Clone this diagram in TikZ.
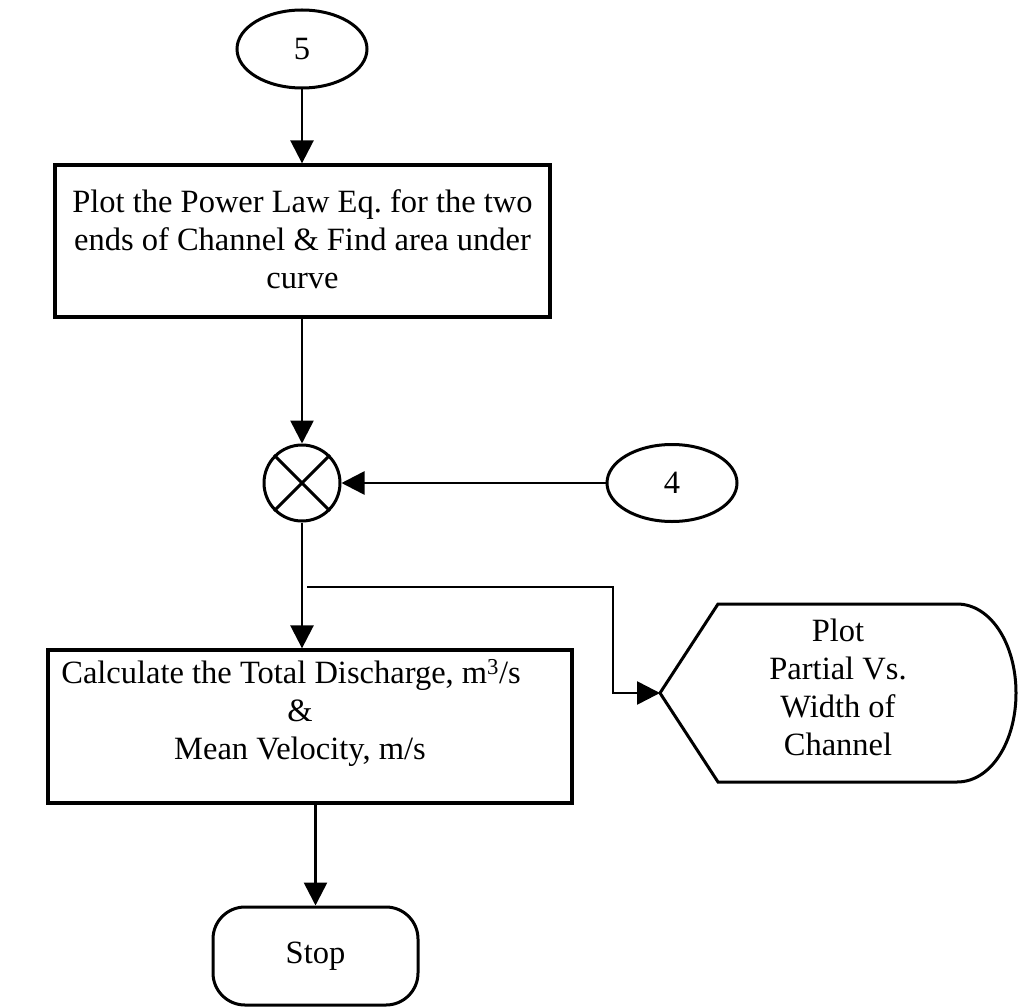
\documentclass[tikz,border=0pt]{standalone}
\usepackage{fontspec}
\setmainfont{Liberation Serif}
\usetikzlibrary{arrows.meta,shapes.geometric,calc}
\frenchspacing
\begin{document}
\begin{tikzpicture}[x=1pt,y=-1pt,
  every node/.style={font=\fontsize{32.5}{38}\selectfont},
  procbox/.style={draw, rectangle, line width=3.3pt, inner sep=0pt},
  connector/.style={draw, ellipse, line width=3pt, inner sep=0pt,
                    minimum width=130pt, minimum height=78pt},
  terminal/.style={draw, rectangle, rounded corners=32pt, line width=3pt,
                   inner sep=0pt, minimum width=205pt, minimum height=98pt},
  boxtext/.style={align=center, inner sep=0pt},
  flow/.style={line width=2.6pt, -{Triangle[length=23pt,width=23pt]}}]
\useasboundingbox (0,0) rectangle (1019,1008);

% off-page connector from sheet 5
\node[connector] (c5) at (302,49) {5};

% power-law plotting step
\node[procbox, minimum width=495pt, minimum height=152pt] (plot) at (302.5,241) {};
\node[boxtext] (plottext) at (302.5,239)
  {Plot the Power Law Eq. for the two\\ends of Channel \& Find area under\\curve};

% multiplication junction
\node[draw, circle, line width=3pt, inner sep=0pt, minimum size=76pt] (mult) at (302,483) {};
\draw[line width=3pt] (mult.north east) -- (mult.south west)
                      (mult.north west) -- (mult.south east);

% off-page connector from sheet 4
\node[connector, minimum height=77pt] (c4) at (672,483) {4};

% discharge calculation
\node[procbox, minimum width=524pt, minimum height=153pt] (calc) at (310,726.5) {};
\node[boxtext] (calctext) at (300,713)
  {Calculate the Total Discharge, m\textsuperscript{3}/s\hspace*{18pt}\\\&\\Mean Velocity, m/s};

% display output
\draw[line width=3pt] (660,693) -- (718,604) -- (957,604)
  .. controls (990.7,604) and (1016,643.9) .. (1016,693)
  .. controls (1016,742.1) and (990.7,782) .. (957,782)
  -- (718,782) -- cycle;
\coordinate (disp) at (660,693);
\node[boxtext] (disptext) at (838,687) {Plot\\Partial Vs.\\Width of\\Channel};

% terminator
\node[terminal] (stop) at (315.5,956) {Stop};

% flow lines
\draw[flow] (c5.south) -- (c5.south |- plot.north);
\draw[flow] (mult.north |- plot.south) -- (mult.north);
\draw[flow] (c4) -- (mult);
\draw[flow] (mult.south) -- (mult.south |- calc.north);
\coordinate (split) at (307,587);
\coordinate (bend) at (613,693);
\draw[flow] (split) -- (split -| bend) |- (disp);
\draw[flow] (stop.north |- calc.south) -- (stop.north);
\end{tikzpicture}
\end{document}
